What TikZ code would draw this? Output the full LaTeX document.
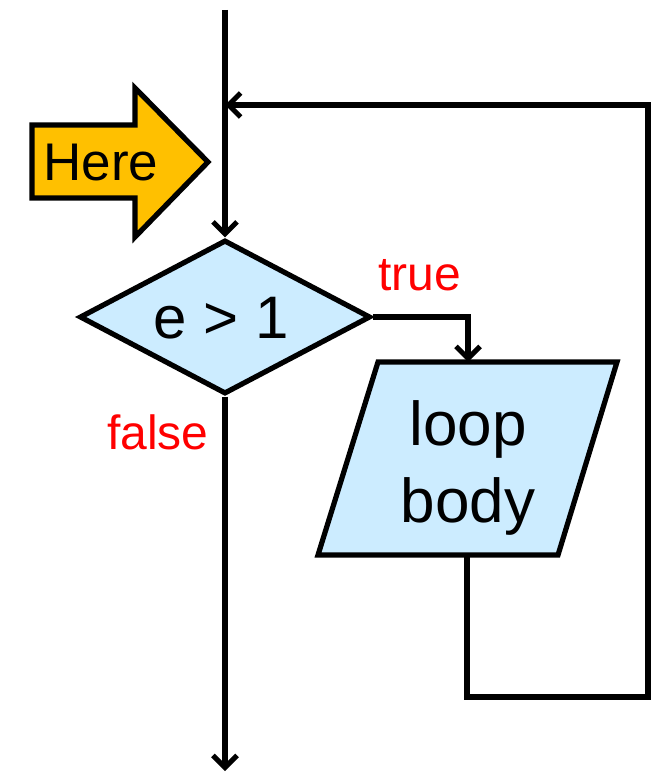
\documentclass[tikz,border=0pt]{standalone}
\usepackage{fontspec}
\setmainfont{Liberation Sans}
\usetikzlibrary{arrows.meta,shapes.geometric}
\definecolor{boxblue}{HTML}{CCECFF}
\definecolor{hereorange}{HTML}{FFC000}
\definecolor{labelred}{HTML}{FF0000}
\tikzset{
  flow/.style={line width=5.2pt, -{Straight Barb[length=12pt,width=24pt,line width=5pt]}},
  shapeline/.style={line width=5.2pt, draw=black, line join=miter},
  lbl/.style={text=labelred, font=\fontsize{48}{52}\selectfont, inner sep=0pt, anchor=base},
}
\begin{document}
\begin{tikzpicture}[x=1pt,y=-1pt]
\useasboundingbox (0,0) rectangle (665,773);
% Here arrow
\filldraw[shapeline, fill=hereorange]
  (32,125) -- (135,125) -- (135,88) -- (208,162) -- (135,237) -- (135,198) -- (32,198) -- cycle;
\node[font=\fontsize{53}{56}\selectfont, anchor=base, inner sep=0pt] (here) at (101,180) {Here};
% diamond
\node[diamond, shapeline, fill=boxblue, minimum width=291pt, minimum height=154pt, inner sep=0pt] (cond) at (225,317) {};
\node[font=\fontsize{60}{64}\selectfont, anchor=base, inner sep=0pt] (condtext) at (221,338) {e > 1};
% parallelogram
\coordinate (ptl) at (378,362);
\coordinate (ptr) at (617,362);
\coordinate (pbr) at (558,555);
\coordinate (pbl) at (318,555);
\filldraw[shapeline, fill=boxblue] (ptl) -- (ptr) -- (pbr) -- (pbl) -- cycle;
\coordinate (ptop) at (468,362);
\coordinate (pbot) at (467,555);
\node[font=\fontsize{62}{77}\selectfont, inner sep=0pt, anchor=base] (body) at (468,445) {loop};
\node[font=\fontsize{62}{77}\selectfont, inner sep=0pt, anchor=base] (body2) at (468,522) {body};
% coordinates
\coordinate (top) at (225,10);
\coordinate (bottom) at (225,771);
\coordinate (merge) at (225,105);
\coordinate (tr) at (648,105);
\coordinate (br) at (648,697);
\coordinate (bl) at (467,697);
\coordinate (tcorner) at (468,317);
% connectors
\draw[flow] (top) -- (cond.north);
\draw[flow] (cond.south) -- (bottom);
\draw[flow, line join=miter] (cond.east) -- (tcorner) -- (ptop);
\draw[flow, line join=miter] (pbot) -- (bl) -- (br) -- (tr) -- (merge);
% labels
\node[lbl] (truelbl) at (420,290) {true};
\node[lbl] (falselbl) at (158,449) {false};
\end{tikzpicture}
\end{document}
